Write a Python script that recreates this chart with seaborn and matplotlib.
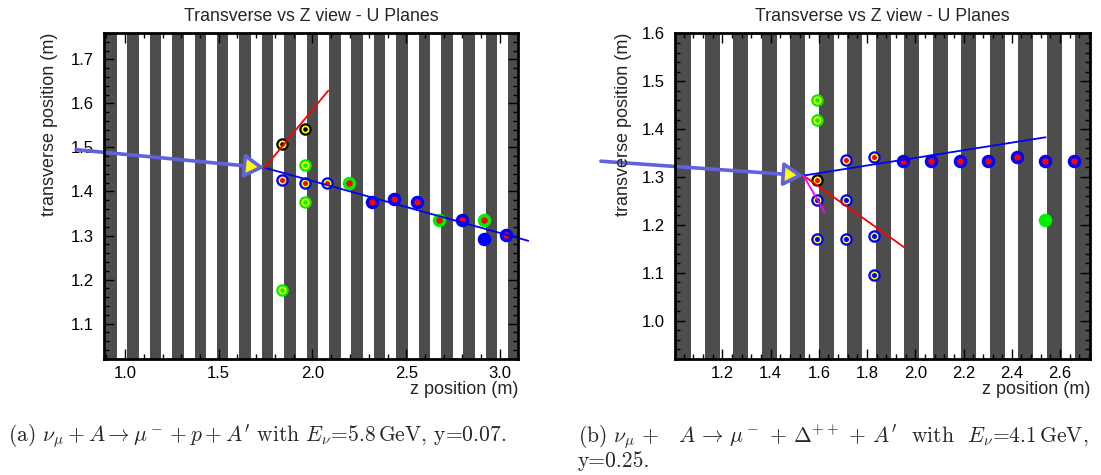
import matplotlib
matplotlib.use("Agg")
import matplotlib.pyplot as plt
from matplotlib.ticker import MultipleLocator, FormatStrFormatter
import seaborn as sns
import pandas as pd

# ---- data read off the two event displays ----
# left: nu_mu + A -> mu- + p + A'
left_planes = [0.924, 1.043, 1.163, 1.282, 1.402, 1.521, 1.641, 1.760, 1.880, 1.999,
               2.119, 2.238, 2.358, 2.477, 2.597, 2.716, 2.836, 2.955, 3.075]
left_z = [1.839, 1.839, 1.839, 1.958, 1.958, 1.958, 1.958, 2.078, 2.197, 2.317,
          2.436, 2.556, 2.675, 2.795, 2.914, 2.914, 3.034]
left_y = [1.508, 1.425, 1.177, 1.542, 1.460, 1.419, 1.377, 1.419, 1.420, 1.377,
          1.383, 1.377, 1.335, 1.336, 1.336, 1.292, 1.302]
left_kind = ["kYk", "bYr", "gYg", "kYk", "gYg", "bYr", "gYg", "bYr", "gr", "br",
             "br", "br", "gr", "br", "gr", "b", "br"]
left_vertex = (1.744, 1.454)
left_beam_start = (0.739, 1.495)
left_tracks = {"blue": (3.151, 1.288), "red": (2.084, 1.629)}

# right: nu_mu + A -> mu- + Delta++ + A'
right_planes = [1.041, 1.159, 1.277, 1.395, 1.513, 1.631, 1.749, 1.867, 1.985, 2.103,
                2.221, 2.339, 2.457, 2.575, 2.693]
right_z = [1.594, 1.594, 1.594, 1.594, 1.594, 1.712, 1.712, 1.712, 1.830, 1.830,
           1.830, 1.948, 2.066, 2.184, 2.302, 2.420, 2.538, 2.656, 2.538]
right_y = [1.461, 1.419, 1.294, 1.252, 1.170, 1.335, 1.252, 1.170, 1.342, 1.177,
           1.095, 1.334, 1.334, 1.334, 1.334, 1.342, 1.334, 1.334, 1.211]
right_kind = ["gYg", "gYg", "kYr", "bYb", "bYb", "bYr", "bYb", "bYb", "bYr", "bYb",
              "bYb", "br", "br", "br", "br", "br", "br", "br", "g"]
right_vertex = (1.536, 1.303)
right_beam_start = (0.697, 1.333)
right_tracks = {"blue": (2.540, 1.383), "red": (1.954, 1.153), "magenta": (1.624, 1.227)}

# (b) is a justified line in the paper, hence the wider spacing
captions = [
    r"(a) $\nu_\mu + A \rightarrow \mu^- + p + A^\prime$ with $E_\nu$=5.8$\,$GeV, y=0.07.",
    r"(b) $\nu_\mu \,+\;\;\; A \,\rightarrow\, \mu^- \,+\, \Delta^{++} \,+\, A^\prime$  with  $E_\nu$=4.1$\,$GeV,",
    r"y=0.25.",
]

# marker layers: (diameter in px, colour), drawn from the outside in
GREEN = "#00f000"
layers = {
    "bYr": [(12.5, "blue"), (8, "yellow"), (5, "red")],
    "bYb": [(12.5, "blue"), (8, "yellow"), (5, "blue")],
    "kYk": [(12.5, "black"), (8, "yellow"), (4.5, "black")],
    "kYr": [(12.5, "black"), (8, "yellow"), (5, "red")],
    "gYg": [(12.5, GREEN), (8, "yellow"), (4.5, GREEN)],
    "gr": [(13.5, GREEN), (6.5, "red")],
    "br": [(13.5, "blue"), (6.5, "red")],
    "b": [(13.5, "blue")],
    "g": [(13.5, GREEN)],
}

sns.set_theme(style="ticks")
plt.rcParams["font.family"] = ["Liberation Sans", "DejaVu Sans"]
plt.rcParams["mathtext.fontset"] = "cm"

fig = plt.figure(figsize=(11.01, 4.75), dpi=100)
W, H = 1101, 475


def draw_panel(rect, planes, z, y, kind, vertex, beam, tracks, xlim, ylim, xmaj, xmin):
    ax = fig.add_axes(rect)
    ax.set_xlim(*xlim)
    ax.set_ylim(*ylim)
    # scintillator planes as dark stripes
    for p in planes:
        ax.axvspan(p - 0.031, p + 0.031, color="#4d4d4d", lw=0, zorder=0)

    df = pd.DataFrame({"z": z, "y": y, "kind": kind})
    for k, layer in layers.items():
        sub = df[df["kind"] == k]
        if sub.empty:
            continue
        for i, (d, c) in enumerate(layer):
            sns.scatterplot(data=sub, x="z", y="y", s=(d * 0.72) ** 2, color=c,
                            linewidth=0, ax=ax, zorder=3 + i, legend=False)

    colors = {"blue": "#0000ff", "red": "#ff0000", "magenta": "#ff00ff"}
    for name, end in tracks.items():
        ax.plot([vertex[0], end[0]], [vertex[1], end[1]], color=colors[name],
                lw=1.3, zorder=8, clip_on=False)

    ax.annotate("", xy=vertex, xytext=beam, annotation_clip=False, zorder=9,
                arrowprops=dict(arrowstyle="-|>,head_length=0.6,head_width=0.36",
                                mutation_scale=20, fc="yellow", ec="#6262dc",
                                lw=2.6, shrinkA=0, shrinkB=0))

    ax.set_xlabel("")
    ax.set_ylabel("")
    ax.xaxis.set_major_locator(MultipleLocator(xmaj))
    ax.xaxis.set_minor_locator(MultipleLocator(xmin))
    ax.yaxis.set_major_locator(MultipleLocator(0.1))
    ax.yaxis.set_minor_locator(MultipleLocator(0.02))
    ax.xaxis.set_major_formatter(FormatStrFormatter("%.1f"))
    ax.yaxis.set_major_formatter(FormatStrFormatter("%.1f"))
    ax.tick_params(which="both", direction="in", top=True, right=True,
                   labelsize=12, colors="black", width=1)
    ax.tick_params(which="major", length=7)
    ax.tick_params(which="minor", length=3.5)
    ax.tick_params(axis="x", which="major", pad=4.5)
    ax.tick_params(axis="y", which="major", pad=7.5)
    for s in ax.spines.values():
        s.set_linewidth(2)
        s.set_color("black")
        s.set_zorder(10)
    ax.set_title("Transverse vs Z view - U Planes", fontsize=12.8, pad=8)
    return ax


# left panel
la = draw_panel([104 / W, 1 - 359.3 / H, 414 / W, 326.8 / H], left_planes, left_z, left_y,
                left_kind, left_vertex, left_beam_start, left_tracks,
                (0.888, 3.096), (1.019, 1.761), 0.5, 0.1)
# right panel
ra = draw_panel([675 / W, 1 - 359.3 / H, 415 / W, 326.8 / H], right_planes, right_z, right_y,
                right_kind, right_vertex, right_beam_start, right_tracks,
                (1.004, 2.724), (0.919, 1.602), 0.2, 0.04)

for ax, ylx in ((la, 50), (ra, 624)):
    pos = ax.get_position()
    fig.text(pos.x1, 1 - 389 / H, "z position (m)", ha="right", va="center", fontsize=13)
    fig.text(ylx / W, pos.y1, "transverse position (m)", rotation=90, ha="center",
             va="top", fontsize=13)

cap_font = dict(ha="left", va="center", fontsize=15.5, family=["cmr10"])
fig.text(8 / W, 1 - 437 / H, captions[0], **cap_font)
fig.text(578 / W, 1 - 437 / H, captions[1], **cap_font)
fig.text(578 / W, 1 - 461 / H, captions[2], **cap_font)

fig.savefig("out.png", dpi=100)
